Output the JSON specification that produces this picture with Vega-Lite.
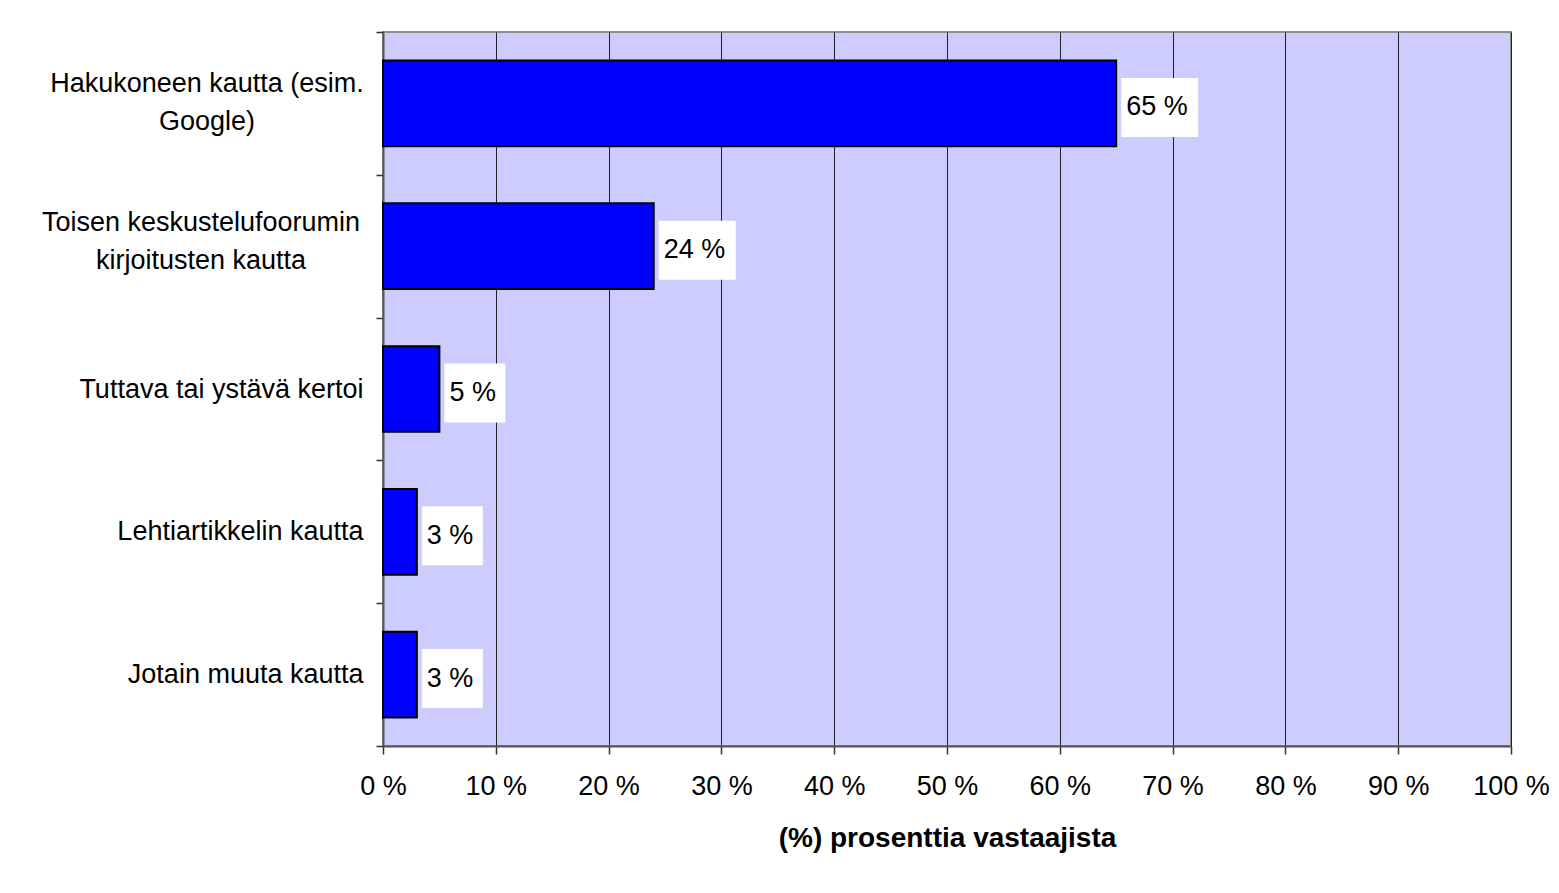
{
  "$schema": "https://vega.github.io/schema/vega-lite/v6.json",
  "autosize": "none",
  "width": 1128,
  "height": 714,
  "padding": {"left": 383, "top": 32, "right": 48, "bottom": 147},
  "background": "white",
  "config": {
    "font": "Liberation Sans",
    "view": {"fill": "#CCCCFF", "stroke": "#8C8C8C", "strokeWidth": 2}
  },
  "data": {
    "values": [
      {"source": "Hakukoneen kautta (esim.\nGoogle)", "value": 65, "valueLabel": "65 %"},
      {"source": "Toisen keskustelufoorumin\nkirjoitusten kautta", "value": 24, "valueLabel": "24 %"},
      {"source": "Tuttava tai ystävä kertoi", "value": 5, "valueLabel": "5 %"},
      {"source": "Lehtiartikkelin kautta", "value": 3, "valueLabel": "3 %"},
      {"source": "Jotain muuta kautta", "value": 3, "valueLabel": "3 %"}
    ]
  },
  "encoding": {
    "y": {
      "field": "source",
      "type": "nominal",
      "sort": null,
      "scale": {"paddingInner": 0, "paddingOuter": 0},
      "axis": {
        "title": null,
        "tickBand": "extent",
        "grid": false,
        "domainColor": "#555555",
        "domainWidth": 2,
        "tickColor": "#333333",
        "tickSize": 7,
        "tickWidth": 1.5,
        "labelFontSize": 27,
        "labelColor": "black",
        "labelLimit": 400,
        "labelPadding": 13,
        "labelExpr": "indexof(datum.label, 'Hakukoneen') == 0 || indexof(datum.label, 'Toisen') == 0 ? '' : datum.label"
      }
    }
  },
  "layer": [
    {
      "mark": {"type": "bar", "color": "#0000FF", "stroke": "black", "strokeWidth": 2, "height": {"band": 0.6}},
      "encoding": {
        "x": {
          "field": "value",
          "type": "quantitative",
          "scale": {"domain": [0, 100], "nice": false},
          "axis": {
            "values": [0, 10, 20, 30, 40, 50, 60, 70, 80, 90, 100],
            "labelExpr": "datum.value + ' %'",
            "labelFontSize": 27,
            "labelColor": "black",
            "labelPadding": 19,
            "labelFlush": false,
            "labelOverlap": false,
            "grid": true,
            "gridColor": "#222222",
            "gridWidth": 1,
            "domainColor": "#555555",
            "domainWidth": 2,
            "tickColor": "#333333",
            "tickSize": 8,
            "tickWidth": 1.5,
            "title": "(%) prosenttia vastaajista",
            "titleFontSize": 28,
            "titleFontWeight": "bold",
            "titleColor": "black",
            "titlePadding": 25
          }
        }
      }
    },
    {
      "transform": [{"filter": "datum.value >= 10"}],
      "mark": {"type": "bar", "color": "white", "height": 59, "xOffset": 5, "x2Offset": 82, "yOffset": 4},
      "encoding": {
        "x": {"field": "value", "type": "quantitative"},
        "x2": {"field": "value"}
      }
    },
    {
      "transform": [{"filter": "datum.value < 10"}],
      "mark": {"type": "bar", "color": "white", "height": 59, "xOffset": 5, "x2Offset": 66, "yOffset": 4},
      "encoding": {
        "x": {"field": "value", "type": "quantitative"},
        "x2": {"field": "value"}
      }
    },
    {
      "mark": {"type": "text", "align": "left", "baseline": "middle", "dx": 10, "dy": 4, "fontSize": 27, "color": "black"},
      "encoding": {
        "x": {"field": "value", "type": "quantitative"},
        "text": {"field": "valueLabel"}
      }
    },
    {
      "transform": [{"filter": "indexof(datum.source, 'Hakukoneen') == 0"}],
      "mark": {"type": "text", "align": "center", "baseline": "middle", "lineBreak": "\n", "lineHeight": 38, "dx": -176, "dy": -19, "fontSize": 27, "color": "black"},
      "encoding": {
        "x": {"datum": 0, "type": "quantitative"},
        "text": {"field": "source"}
      }
    },
    {
      "transform": [{"filter": "indexof(datum.source, 'Toisen') == 0"}],
      "mark": {"type": "text", "align": "center", "baseline": "middle", "lineBreak": "\n", "lineHeight": 38, "dx": -182, "dy": -23, "fontSize": 27, "color": "black"},
      "encoding": {
        "x": {"datum": 0, "type": "quantitative"},
        "text": {"field": "source"}
      }
    }
  ]
}
